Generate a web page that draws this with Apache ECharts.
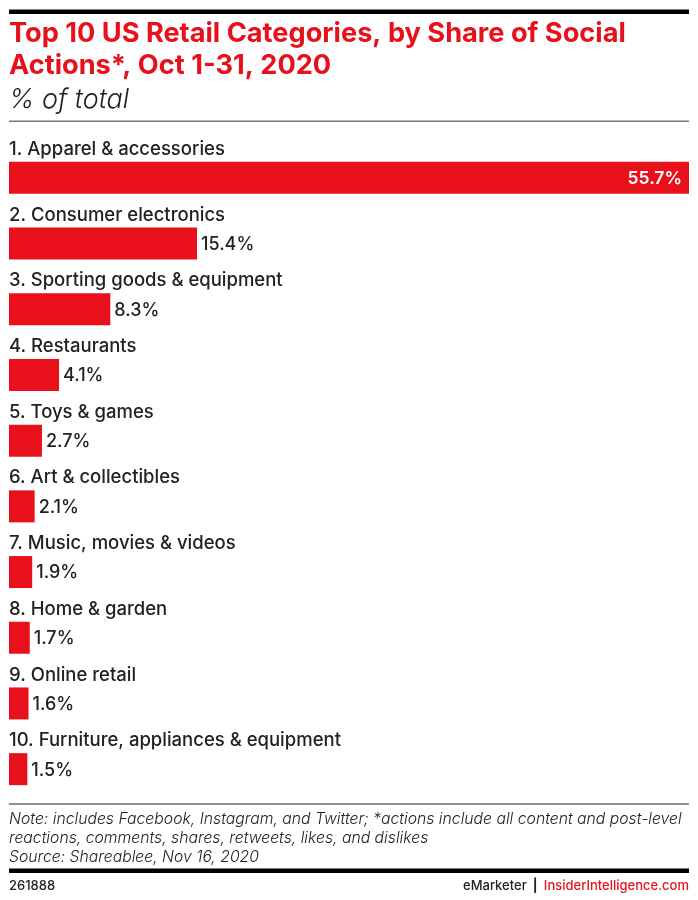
<!DOCTYPE html>
<html>
<head>
<meta charset="utf-8">
<style>
html, body { margin: 0; padding: 0; background: #fff; }
#dom { width: 698px; height: 900px; }
</style>
<script src="https://cdn.jsdelivr.net/npm/echarts@6/dist/echarts.min.js"></script>
</head>
<body>
<div id="dom"></div>
<script>
const categories = [
    '1. Apparel & accessories',
    '2. Consumer electronics',
    '3. Sporting goods & equipment',
    '4. Restaurants',
    '5. Toys & games',
    '6. Art & collectibles',
    '7. Music, movies & videos',
    '8. Home & garden',
    '9. Online retail',
    '10. Furniture, appliances & equipment'
];
const shares = [55.7, 15.4, 8.3, 4.1, 2.7, 2.1, 1.9, 1.7, 1.6, 1.5];
const titleLines = 'Top 10 US Retail Categories, by Share of Social\nActions*, Oct 1-31, 2020';
const subtitle = '% of total';
const noteLines = 'Note: includes Facebook, Instagram, and Twitter; *actions include all content and post-level\nreactions, comments, shares, retweets, likes, and dislikes\nSource: Shareablee, Nov 16, 2020';

const red = '#e8111b';
const font = 'Inter';

function rule(y, h, color) {
    return {type: 'rect', shape: {x: 9, y: y, width: 680, height: h}, style: {fill: color}, silent: true};
}

const chart = echarts.init(document.getElementById('dom'), null, {renderer: 'canvas'});

chart.setOption({
    animation: false,
    backgroundColor: '#fff',
    textStyle: {fontFamily: font},
    title: [
        {text: titleLines, left: 9, top: 18, padding: 0, textStyle: {fontFamily: font, fontSize: 27.2, fontWeight: 700, color: red, lineHeight: 32}},
        {text: subtitle, left: 9, top: 84, padding: 0, textStyle: {fontFamily: font, fontSize: 27, fontWeight: 300, fontStyle: 'italic', color: '#222', lineHeight: 32}},
        {text: noteLines, left: 9, top: 810, padding: 0, textStyle: {fontFamily: font, fontSize: 15.75, fontWeight: 300, fontStyle: 'italic', color: '#222', lineHeight: 19}},
        {text: '261888', left: 9, top: 880, padding: 0, textStyle: {fontFamily: font, fontSize: 13, fontWeight: 500, color: '#222'}},
        {
            text: '{a|eMarketer}{b|  |  }{c|InsiderIntelligence.com}',
            right: 9,
            top: 880,
            padding: 0,
            textStyle: {
                rich: {
                    a: {fontFamily: font, fontSize: 13, fontWeight: 500, color: '#222'},
                    b: {fontFamily: font, fontSize: 13, color: '#222'},
                    c: {fontFamily: font, fontSize: 13, fontWeight: 500, color: red}
                }
            }
        }
    ],
    graphic: [
        rule(9.5, 4.5, '#000'),
        rule(120.5, 1.5, '#777'),
        rule(803.5, 1, '#222'),
        rule(868.5, 4.5, '#000')
    ],
    grid: {left: 9, right: 9, top: 145, height: 657},
    xAxis: {type: 'value', min: 0, max: 55.7, show: false},
    yAxis: {
        type: 'category',
        inverse: true,
        data: categories,
        axisLine: {show: false},
        axisTick: {show: false},
        splitLine: {show: false},
        axisLabel: {
            inside: true,
            margin: 0,
            interval: 0,
            align: 'left',
            verticalAlign: 'bottom',
            padding: [0, 0, 19, 0],
            fontFamily: font,
            fontSize: 18.5,
            fontWeight: 500,
            color: '#222'
        },
        z: 5
    },
    series: [{
        type: 'bar',
        barWidth: 32,
        itemStyle: {color: red},
        data: shares.map((v, i) => ({
            value: v,
            label: i === 0
                ? {position: 'insideRight', color: '#fff', distance: 7, fontWeight: 600, fontSize: 17.5}
                : {position: 'right', color: '#222', distance: 4}
        })),
        label: {
            show: true,
            offset: [0, 1],
            fontFamily: font,
            fontSize: 18,
            fontWeight: 500,
            formatter: p => p.value.toFixed(1) + '%'
        }
    }]
});
</script>
</body>
</html>
